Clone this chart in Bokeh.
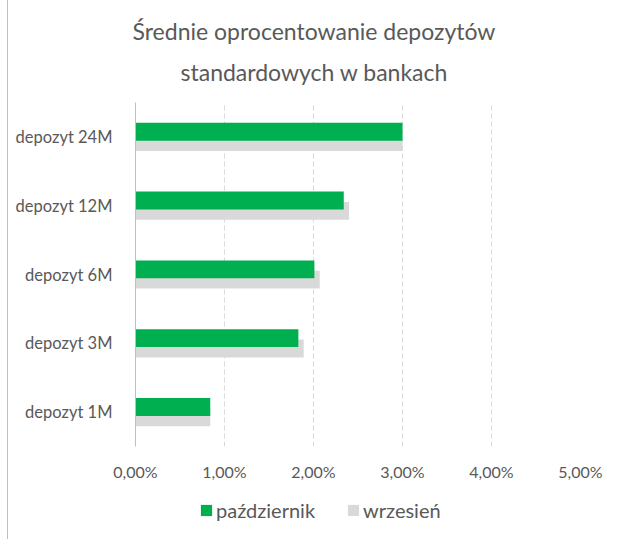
from bokeh.plotting import figure
from bokeh.layouts import column
from bokeh.models import FactorRange, Range1d, ColumnDataSource, Legend, LegendItem, CustomJSTickFormatter, FixedTicker, Title
from bokeh.transform import dodge
from bokeh.embed import file_html
from bokeh.resources import INLINE

categories = ["depozyt 1M", "depozyt 3M", "depozyt 6M", "depozyt 12M", "depozyt 24M"]
pazdziernik = [0.84, 1.83, 2.01, 2.34, 3.00]
wrzesien = [0.84, 1.89, 2.07, 2.40, 3.00]
x_ticks = [0, 1, 2, 3, 4, 5]
series_names = ["październik", "wrzesień"]
title_lines = ["Średnie oprocentowanie depozytów", "standardowych w bankach"]

FONT = "Lato"
TXT = "#595959"
GREEN = "#00b050"
GREY = "#d9d9d9"

src = ColumnDataSource(dict(cat=categories, paz=pazdziernik, wrz=wrzesien))

p = figure(width=603, height=485, output_backend="svg", toolbar_location=None,
           y_range=FactorRange(*categories, range_padding=0), x_range=Range1d(0, 5),
           min_border_left=127, min_border_right=31, min_border_top=102, min_border_bottom=39)
p.title.visible = False

t2 = Title(text=title_lines[1], text_font=FONT, text_font_size="23px", text_font_style="normal",
           text_color=TXT, align="left", offset=45, standoff=33)
t1 = Title(text=title_lines[0], text_font=FONT, text_font_size="23px", text_font_style="normal",
           text_color=TXT, align="left", offset=-3, standoff=-11)
p.add_layout(t2, "above")
p.add_layout(t1, "above")

p.hbar(y=dodge("cat", -0.075, range=p.y_range), right="wrz", left=0, height=0.26,
       source=src, fill_color=GREY, line_color=None)
p.hbar(y=dodge("cat", 0.075, range=p.y_range), right="paz", left=0, height=0.26,
       source=src, fill_color=GREEN, line_color=None)

p.outline_line_color = None
p.ygrid.grid_line_color = None
p.xgrid.grid_line_color = GREY
p.xgrid.grid_line_dash = "5 3"
p.xgrid.ticker = FixedTicker(ticks=x_ticks)

p.xaxis.ticker = FixedTicker(ticks=x_ticks)
p.xaxis.formatter = CustomJSTickFormatter(code="return tick.toFixed(2).replace('.', ',') + '%';")
p.xaxis.axis_line_color = None
p.xaxis.major_tick_line_color = None
p.xaxis.minor_tick_line_color = None
p.xaxis.major_label_text_font = FONT
p.xaxis.major_label_text_font_size = "16px"
p.xaxis.major_label_text_color = TXT
p.xaxis.major_label_standoff = 9

p.yaxis.axis_line_color = "#bfbfbf"
p.yaxis.major_tick_line_color = None
p.yaxis.minor_tick_line_color = None
p.yaxis.major_label_text_font = FONT
p.yaxis.major_label_text_font_size = "16.5px"
p.yaxis.major_label_text_color = TXT
p.yaxis.major_label_standoff = 17

# legend strip below the chart
lg = figure(width=603, height=54, output_backend="svg", toolbar_location=None,
            x_range=Range1d(0, 1), y_range=Range1d(0, 1),
            x_axis_location=None, y_axis_location=None,
            min_border=0, outline_line_color=None)
lg.grid.visible = False
hidden = ColumnDataSource(dict(y=[-10], right=[-10]))
lr_p = lg.hbar(y="y", right="right", left=-11, height=1, source=hidden, fill_color=GREEN, line_color=None)
lr_w = lg.hbar(y="y", right="right", left=-11, height=1, source=hidden, fill_color=GREY, line_color=None)
legend = Legend(items=[LegendItem(label=series_names[0], renderers=[lr_p]),
                       LegendItem(label=series_names[1], renderers=[lr_w])],
                orientation="horizontal", location=(64, 17), padding=5, margin=0,
                label_text_font=FONT, label_text_font_size="20px", label_text_color=TXT,
                glyph_width=14, glyph_height=14, spacing=31, label_standoff=3,
                border_line_color=None, background_fill_alpha=0)
lg.add_layout(legend, "center")

layout = column(p, lg, spacing=0)
layout.styles = {"border-left": "1px solid #bfbfbf", "margin-left": "7px"}

open("out.html", "w").write(file_html(layout, INLINE))
